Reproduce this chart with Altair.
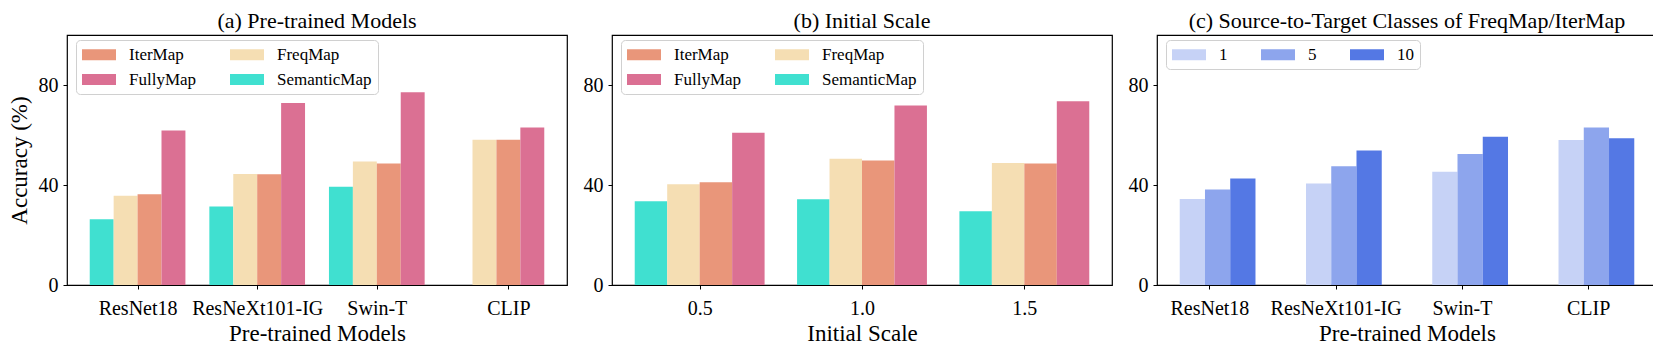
import altair as alt
import pandas as pd

# ---------------- data ----------------
models = ["ResNet18", "ResNeXt101-IG", "Swin-T", "CLIP"]

# panel (a): pre-trained models (bar order left->right)
methods = ["SemanticMap", "FreqMap", "IterMap", "FullyMap"]
semantic_a = [26.3, 31.4, 39.3, None]
freq_a = [35.7, 44.4, 49.4, 58.1]
iter_a = [36.3, 44.3, 48.6, 58.1]
fully_a = [61.8, 72.8, 77.1, 63.0]

# panel (b): initial scale
scales = ["0.5", "1.0", "1.5"]
semantic_b = [33.5, 34.3, 29.5]
freq_b = [40.3, 50.5, 48.8]
iter_b = [41.1, 49.8, 48.6]
fully_b = [60.9, 71.8, 73.5]

# panel (c): source-to-target classes
classes = ["1", "5", "10"]
cls1 = [34.4, 40.6, 45.3, 58.0]
cls5 = [38.2, 47.5, 52.4, 63.0]
cls10 = [42.6, 53.8, 59.3, 58.7]

# legend order (column-major, 2 columns) and colours
legend_order_ab = ["IterMap", "FullyMap", "FreqMap", "SemanticMap"]
method_colors = {"SemanticMap": "#40E0D0", "FreqMap": "#F5DEB3",
                 "IterMap": "#E9967A", "FullyMap": "#DB7093"}
class_colors = ["#C6D2F6", "#8DA5ED", "#5478E4"]

FONT = "Liberation Serif"
BW = 0.2
W, H = 500, 250


def bars_df(groups, names, values, n_slots):
    rows = []
    for g, grp in enumerate(groups):
        for s, (name, vals) in enumerate(zip(names, values)):
            v = vals[g]
            if v is None:
                continue
            left = g - BW * n_slots / 2 + BW * s
            rows.append(dict(group=grp, series=name, value=v, x0=left, x1=left + BW))
    return pd.DataFrame(rows)


def centred_ticks(df, groups):
    out = []
    for grp in groups:
        sub = df[df.group == grp]
        out.append(float(((sub.x0 + sub.x1) / 2).mean()))
    return out


def js_list(items):
    return "[" + ",".join("'" + str(i) + "'" for i in items) + "]"


# wide legend patch: spans 0..34 px horizontally from the entry start, ~11 px tall
PATCH = "M-1,-0.64H3V0.64H-1Z"


def legend(cols):
    return alt.Legend(title=None, orient="none", legendX=9, legendY=5, columns=cols,
                      direction="vertical",
                      symbolType=PATCH, symbolSize=289,
                      symbolStrokeWidth=0, symbolOpacity=1,
                      labelFont=FONT, labelFontSize=17, labelColor="black",
                      labelOffset=30, columnPadding=33, rowPadding=7, padding=6,
                      fillColor="white", strokeColor="#d0d0d0", cornerRadius=4)


def panel(df, ticks, labels, domain, color_domain, color_range, title, xtitle,
          ytitle, cols):
    y_axis = alt.Axis(values=[0, 40, 80], title=ytitle, titlePadding=6.5) if ytitle \
        else alt.Axis(values=[0, 40, 80], title=None)
    return alt.Chart(df, title=alt.TitleParams(title, offset=2.4)).mark_rect().encode(
        x=alt.X("x0:Q", scale=alt.Scale(domain=domain, nice=False, zero=False),
                axis=alt.Axis(values=ticks, labelExpr=js_list(labels) + "[round(datum.value)]",
                              title=xtitle, labelPadding=9, titlePadding=4)),
        x2="x1:Q",
        y=alt.Y("value:Q", scale=alt.Scale(domain=[0, 100], nice=False), axis=y_axis),
        y2=alt.datum(0),
        color=alt.Color("series:N", scale=alt.Scale(domain=color_domain, range=color_range),
                        legend=legend(cols)),
    ).properties(width=W, height=H)


# panel a
df_a = bars_df(models, methods, [semantic_a, freq_a, iter_a, fully_a], 4)
ticks_a = centred_ticks(df_a, models)
lo, hi = df_a.x0.min(), df_a.x1.max()
m = 0.05 * (hi - lo)
pa = panel(df_a, ticks_a, models, [lo - m, hi + m], legend_order_ab,
           [method_colors[k] for k in legend_order_ab],
           "(a) Pre-trained Models", "Pre-trained Models", "Accuracy (%)", 2)

# panel b
df_b = bars_df(scales, methods, [semantic_b, freq_b, iter_b, fully_b], 4)
ticks_b = centred_ticks(df_b, scales)
lo, hi = df_b.x0.min(), df_b.x1.max()
m = 0.05 * (hi - lo)
pb = panel(df_b, ticks_b, scales, [lo - m, hi + m], legend_order_ab,
           [method_colors[k] for k in legend_order_ab],
           "(b) Initial Scale", "Initial Scale", None, 2)

# panel c
df_c = bars_df(models, classes, [cls1, cls5, cls10], 3)
TICK_SHIFT_C = -0.065
ticks_c = [g + TICK_SHIFT_C for g in range(len(models))]
lo, hi = df_c.x0.min(), df_c.x1.max()
m = 0.05 * (hi - lo)
pc = panel(df_c, ticks_c, models, [lo - m, hi + m], classes, class_colors,
           "(c) Source-to-Target Classes of FreqMap/IterMap", "Pre-trained Models", None, 3)

chart = alt.hconcat(pa, pb, pc, spacing=45, bounds="flush").resolve_scale(
    color="independent", x="independent", y="independent"
).resolve_legend(color="independent").properties(
    autosize=alt.AutoSizeParams(type="none"),
    padding={"left": 59, "top": 27, "right": 1586, "bottom": 311},
).configure(font=FONT).configure_axis(
    labelFont=FONT, labelFontSize=20, labelColor="black",
    titleFont=FONT, titleFontSize=23, titleFontWeight="normal", titleColor="black",
    grid=False, domain=False, ticks=True, tickColor="black", tickSize=4, tickWidth=1,
    labelPadding=5,
).configure_title(
    font=FONT, fontSize=22, fontWeight="normal", color="black", anchor="middle"
).configure_view(stroke="black", strokeWidth=1.2)

chart.save("out.html", embed_options={"renderer": "svg", "actions": False})
